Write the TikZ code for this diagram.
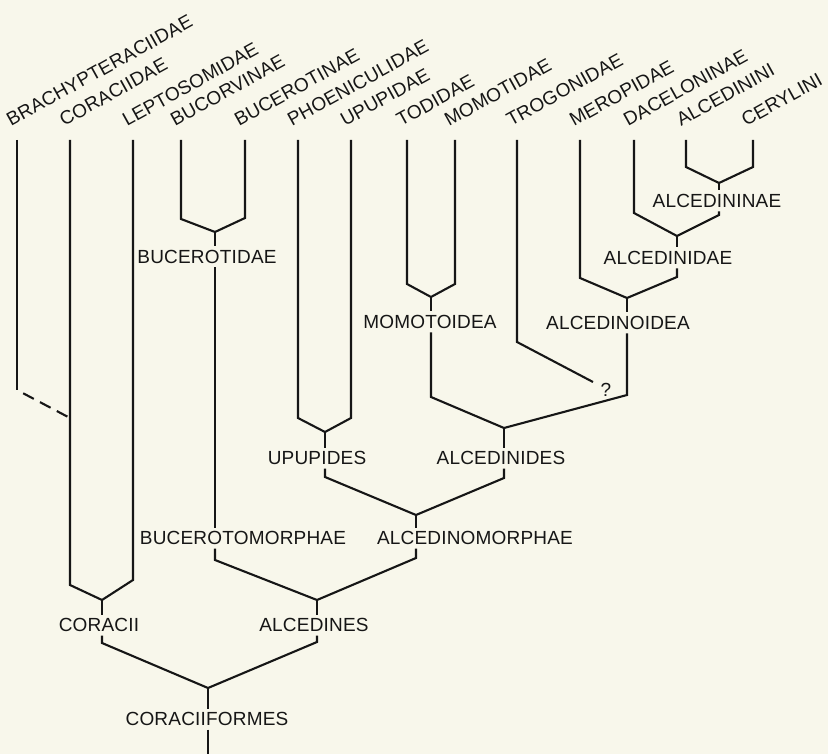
\documentclass[tikz,border=0pt]{standalone}
\usepackage{fontspec}
\usepackage{tikz}
\usetikzlibrary{positioning,calc}
\newfontfamily\treefont[LetterSpace=1]{Liberation Sans}
\definecolor{paper}{RGB}{248,247,235}
\definecolor{ink}{RGB}{22,22,22}

\begin{document}
\begin{tikzpicture}[x=1pt, y=-1pt,
    br/.style={ink, line width=2.1pt},
    taxon/.style={ink, inner xsep=0pt, inner ysep=3.5pt, text height=13.6pt, text depth=0pt, font=\treefont\fontsize{19}{21}\selectfont},
    leaf/.style={ink, rotate=29, anchor=base west, inner sep=0pt, font=\treefont\fontsize{19}{21}\selectfont}]
    \fill[paper] (0,0) rectangle (828,754);
    \useasboundingbox (0,0) rectangle (828,754);

    % Leaf tops
    \coordinate (brach) at (17,140);
    \coordinate (corac) at (70,140);
    \coordinate (lepto) at (133,140);
    \coordinate (bucorv) at (181,140);
    \coordinate (bucerot) at (245,140);
    \coordinate (phoen) at (298,140);
    \coordinate (upup) at (351,140);
    \coordinate (todid) at (407,140);
    \coordinate (momot) at (455,140);
    \coordinate (trogon) at (517,140);
    \coordinate (merop) at (580,140);
    \coordinate (dacel) at (634,140);
    \coordinate (alcedini) at (686,140);
    \coordinate (ceryl) at (753,140);

    % Leaf labels
    \node[leaf] (brachL) at (11,127) {BRACHYPTERACIIDAE};
    \node[leaf] (coracL) at (64,127) {CORACIIDAE};
    \node[leaf] (leptoL) at (127,127) {LEPTOSOMIDAE};
    \node[leaf] (bucorvL) at (175,127) {BUCORVINAE};
    \node[leaf] (bucerotL) at (239,127) {BUCEROTINAE};
    \node[leaf] (phoenL) at (292,127) {PHOENICULIDAE};
    \node[leaf] (upupL) at (345,127) {UPUPIDAE};
    \node[leaf] (todidL) at (401,127) {TODIDAE};
    \node[leaf] (momotL) at (449,127) {MOMOTIDAE};
    \node[leaf] (trogonL) at (511,127) {TROGONIDAE};
    \node[leaf] (meropL) at (574,127) {MEROPIDAE};
    \node[leaf] (dacelL) at (628,127) {DACELONINAE};
    \node[leaf] (alcediniL) at (681,127) {ALCEDININI};
    \node[leaf] (cerylL) at (746,127) {CERYLINI};

    % Junctions
    \coordinate (jCor) at (102,600);
    \coordinate (jAlc) at (317,600);
    \coordinate (jRoot) at (208,688);
    \coordinate (jBuc) at (215,232);
    \coordinate (jUpu) at (325,432);
    \coordinate (jMom) at (431,297);
    \coordinate (jAcd) at (627,298);
    \coordinate (jAcn) at (677,236);
    \coordinate (jAci) at (719,183);
    \coordinate (jAds) at (504,428);
    \coordinate (jAmo) at (416,515);
    \coordinate (trogE) at (593,382);
    \coordinate (base) at (208,754);

    % Group labels
    \node[taxon] (cor) at (99,625) {CORACII};
    \node[taxon] (alc) at (314,625) {ALCEDINES};
    \node[taxon] (root) at (207,719) {CORACIIFORMES};
    \node[taxon] (buc) at (207,257) {BUCEROTIDAE};
    \node[taxon] (bucm) at (243,538) {BUCEROTOMORPHAE};
    \node[taxon] (upu) at (317,458) {UPUPIDES};
    \node[taxon] (mom) at (430,322) {MOMOTOIDEA};
    \node[taxon] (acd) at (618,323) {ALCEDINOIDEA};
    \node[taxon] (acn) at (668,258) {ALCEDINIDAE};
    \node[taxon] (aci) at (717,201) {ALCEDININAE};
    \node[taxon] (ads) at (501,458) {ALCEDINIDES};
    \node[taxon] (amo) at (475,538) {ALCEDINOMORPHAE};
    \node[taxon] (qm) at (606,390) {?};

    % Coracii
    \draw[br] (brach) -- (brach |- 0,390);
    \draw[br, dash pattern=on 12pt off 7pt, dash phase=12pt] (brach |- 0,390) -- (corac |- 0,418);
    \draw[br] (corac) -- (corac |- 0,585) -- (jCor);
    \draw[br] (lepto) -- (lepto |- 0,580) -- (jCor);
    \draw[br] (jCor) -- (jCor |- cor.north);
    \draw[br] (jCor |- cor.south) -- (jCor |- 0,643) -- (jRoot);

    % Bucerotidae
    \draw[br] (bucorv) -- (bucorv |- 0,219) -- (jBuc);
    \draw[br] (bucerot) -- (bucerot |- 0,218) -- (jBuc);
    \draw[br] (jBuc) -- (jBuc |- buc.north);
    \draw[br] (jBuc |- buc.south) -- (jBuc |- bucm.north);
    \draw[br] (jBuc |- bucm.south) -- (jBuc |- 0,560) -- (jAlc);

    % Upupides
    \draw[br] (phoen) -- (phoen |- 0,418) -- (jUpu);
    \draw[br] (upup) -- (upup |- 0,418) -- (jUpu);
    \draw[br] (jUpu) -- (jUpu |- upu.north);
    \draw[br] (jUpu |- upu.south) -- (jUpu |- 0,477) -- (jAmo);

    % Momotoidea
    \draw[br] (todid) -- (todid |- 0,284) -- (jMom);
    \draw[br] (momot) -- (momot |- 0,284) -- (jMom);
    \draw[br] (jMom) -- (jMom |- mom.north);
    \draw[br] (jMom |- mom.south) -- (jMom |- 0,397) -- (jAds);

    % Trogonidae
    \draw[br] (trogon) -- (trogon |- 0,342) -- (trogE);

    % Alcedinoidea
    \draw[br] (alcedini) -- (alcedini |- 0,167) -- (jAci);
    \draw[br] (ceryl) -- (ceryl |- 0,167) -- (jAci);
    \draw[br] (jAci) -- (jAci |- aci.north);
    \draw[br] (dacel) -- (dacel |- 0,213) -- (jAcn);
    \draw[br] (jAci |- aci.south) -- (jAci |- 0,215) -- (jAcn);
    \draw[br] (jAcn) -- (jAcn |- acn.north);
    \draw[br] (merop) -- (merop |- 0,278) -- (jAcd);
    \draw[br] (jAcn |- acn.south) -- (jAcn |- 0,277) -- (jAcd);
    \draw[br] (jAcd) -- (jAcd |- acd.north);
    \draw[br] (jAcd |- acd.south) -- (jAcd |- 0,395) -- (jAds);

    % Alcedinides to root
    \draw[br] (jAds) -- (jAds |- ads.north);
    \draw[br] (jAds |- ads.south) -- (jAds |- 0,478) -- (jAmo);
    \draw[br] (jAmo) -- (jAmo |- amo.north);
    \draw[br] (jAmo |- amo.south) -- (jAmo |- 0,558) -- (jAlc);
    \draw[br] (jAlc) -- (jAlc |- alc.north);
    \draw[br] (jAlc |- alc.south) -- (jAlc |- 0,642) -- (jRoot);
    \draw[br] (jRoot) -- (jRoot |- root.north);
    \draw[br] (jRoot |- root.south) -- (base);
\end{tikzpicture}
\end{document}
